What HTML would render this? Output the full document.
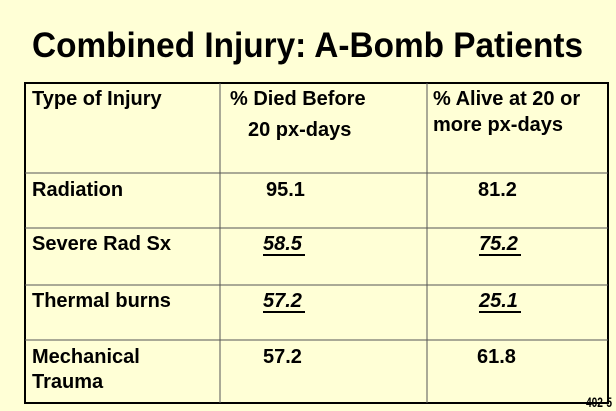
<!DOCTYPE html>
<html><head><meta charset="utf-8"><style>
html,body{margin:0;padding:0;background:#FFFFD6;}
svg{display:block}
text{font-family:"Liberation Sans",Arial,sans-serif;font-weight:bold;fill:#000}
</style></head><body>
<svg width="616" height="411" viewBox="0 0 616 411">
<rect width="616" height="411" fill="#FFFFD6"/>
<text x="32" y="57" font-size="35" textLength="551" lengthAdjust="spacingAndGlyphs">Combined Injury: A-Bomb Patients</text>
<rect x="25" y="83" width="583" height="320" fill="none" stroke="#000" stroke-width="2"/>
<g stroke="#555" stroke-width="1">
<line x1="220" y1="83" x2="220" y2="403"/>
<line x1="427" y1="83" x2="427" y2="403"/>
<line x1="25" y1="173" x2="608" y2="173"/>
<line x1="25" y1="228" x2="608" y2="228"/>
<line x1="25" y1="285" x2="608" y2="285"/>
<line x1="25" y1="340" x2="608" y2="340"/>
</g>
<g font-size="20">
<text x="32" y="105">Type of Injury</text>
<text x="230" y="105">% Died Before</text>
<text x="248" y="136">20 px-days</text>
<text x="433" y="105">% Alive at 20 or</text>
<text x="433" y="131">more px-days</text>
<text x="32" y="196">Radiation</text>
<text x="266" y="196">95.1</text>
<text x="478" y="196">81.2</text>
<text x="32" y="250">Severe Rad Sx</text>
<text x="263" y="250" font-style="italic">58.5</text>
<text x="479" y="250" font-style="italic">75.2</text>
<text x="32" y="307">Thermal burns</text>
<text x="263" y="307" font-style="italic">57.2</text>
<text x="479" y="307" font-style="italic">25.1</text>
<text x="32" y="363">Mechanical</text>
<text x="32" y="388">Trauma</text>
<text x="263" y="363">57.2</text>
<text x="477" y="363">61.8</text>
</g>
<line x1="263" y1="255" x2="305" y2="255" stroke="#000" stroke-width="2"/>
<line x1="479" y1="255" x2="521" y2="255" stroke="#000" stroke-width="2"/>
<line x1="263" y1="312" x2="305" y2="312" stroke="#000" stroke-width="2"/>
<line x1="479" y1="312" x2="521" y2="312" stroke="#000" stroke-width="2"/>
<text x="586" y="407" font-size="14" textLength="26" lengthAdjust="spacingAndGlyphs">402-5</text>
</svg>
</body></html>
